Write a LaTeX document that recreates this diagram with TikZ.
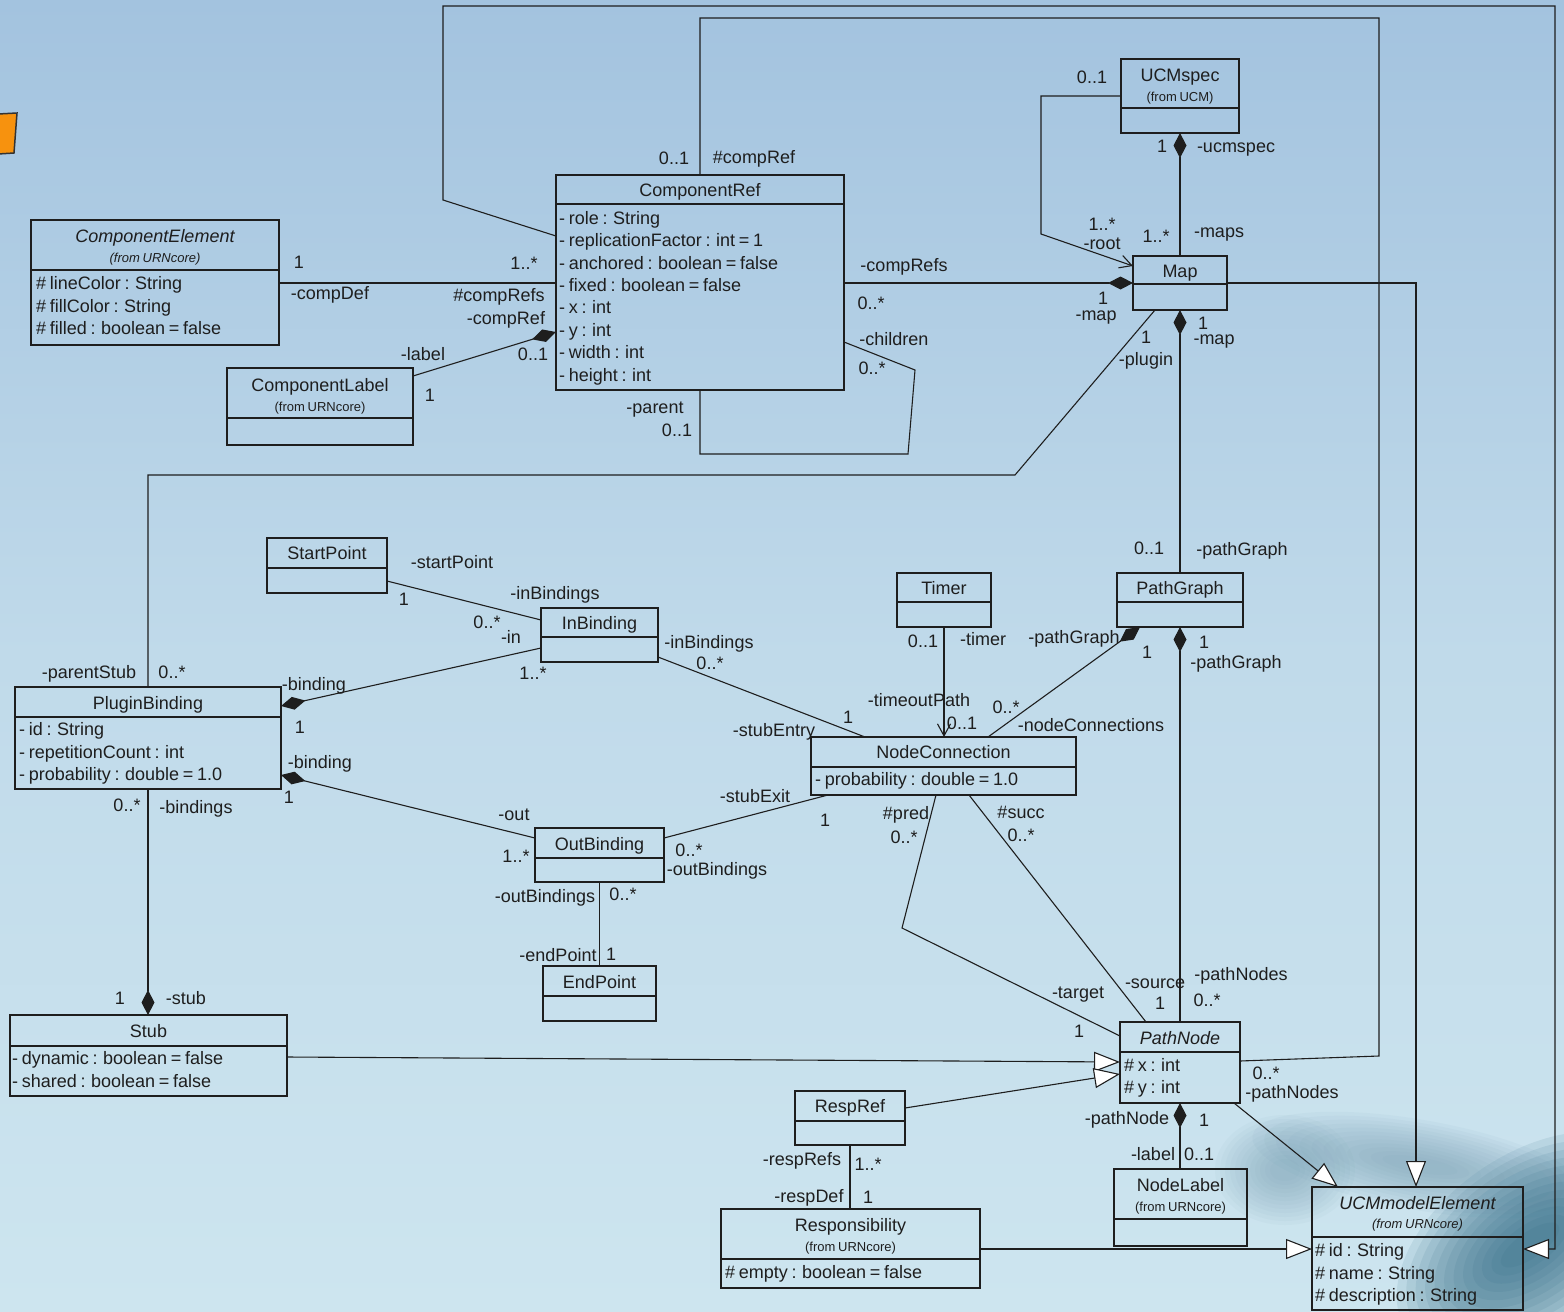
\documentclass[tikz,border=0pt]{standalone}
\usepackage{fontspec}
\setmainfont{Liberation Sans}[WordSpace=0.75]
\usetikzlibrary{arrows.meta}
\definecolor{lc}{HTML}{1E1E1E}
\definecolor{bgtop}{HTML}{A3C3DF}
\definecolor{bgmid}{HTML}{C0DAEA}
\definecolor{bgbot}{HTML}{CDE5EF}
\definecolor{swirl}{HTML}{2A6680}
\definecolor{swirlb}{HTML}{6F98AC}
\definecolor{orng}{HTML}{F7920E}
\tikzset{
 cl/.style={draw=lc, line width=1.1pt},
 ubox/.style={draw=lc, line width=1.1pt, rectangle, inner sep=0pt, outer sep=0pt, anchor=north west},
 tx/.style={font=\fontsize{18}{18}\selectfont, text=lc, inner sep=0pt, text height=12pt, text depth=0pt},
 ti/.style={tx, font=\fontsize{18}{18}\selectfont\itshape},
 fr/.style={font=\fontsize{13}{13}\selectfont, text=lc, inner sep=0pt, text height=9pt, text depth=0pt},
 fri/.style={fr, font=\fontsize{13}{13}\selectfont\itshape},
 attr/.style={tx, anchor=west},
 comp/.style={{Diamond[length=25pt,width=13pt,fill=lc]}-},
 gen/.style={-{Triangle[open,length=26pt,width=20pt,fill=white]}},
 nav/.style={-{Straight Barb[length=12pt,width=13pt]}},
}
\newcommand\klass[5]{\node[ubox, minimum width=#4pt, minimum height=#5pt] (#1) at (#2,#3) {};}
\newcommand\ksep[2]{\draw[cl] (#1.west |- 0,#2) -- (#1.east |- 0,#2);}
\newcommand\lab[4]{\node[tx] (#1) at (#2,#3) {#4};}
\begin{document}
\begin{tikzpicture}[x=1pt,y=-1pt]
\useasboundingbox (0,0) rectangle (1564,1312);
\shade[top color=bgtop, bottom color=bgbot, middle color=bgmid] (0,0) rectangle (1564,1312);
% background decoration (soft blurred swirl)
\begin{scope}
\clip (0,0) rectangle (1564,1312);
\foreach \i in {0,...,11}{
  \fill[swirlb, opacity=0.05] (1285,1170) ellipse [x radius={70-5*\i}, y radius={55-4*\i}];
  \fill[swirlb, opacity=0.06, rotate around={-10:(1420,1165)}] (1420,1165) ellipse [x radius={170-12*\i}, y radius={45-3.4*\i}];
  \fill[swirl, opacity=0.1, rotate around={35:(1530,1245)}] (1530,1245) ellipse [x radius={150-10.5*\i}, y radius={90-7*\i}];
}
\end{scope}
\fill[orng, draw=black!80, line width=1.5pt] (-2,114) -- (17,113) -- (14,153) -- (-2,154) -- cycle;

% ---------- classes ----------
\klass{celem}{31}{220}{248}{125}\ksep{celem}{270}
\node[ti] (celem-n) at (celem.north |- 0,236) {ComponentElement};
\node[fri] (celem-f) at (celem.north |- 0,258) {(from URNcore)};
\node[attr] (celem-a1) at (36,283) {\# lineColor : String};
\node[attr] (celem-a2) at (36,306) {\# fillColor : String};
\node[attr] (celem-a3) at (36,328) {\# filled : boolean = false};

\klass{clabel}{227}{368}{186}{77}\ksep{clabel}{418}
\node[tx] (clabel-n) at (clabel.north |- 0,385) {ComponentLabel};
\node[fr] (clabel-f) at (clabel.north |- 0,407) {(from URNcore)};

\klass{cref}{556}{175}{288}{215}\ksep{cref}{204}
\node[tx] (cref-n) at (cref.north |- 0,190) {ComponentRef};
\node[attr] (cref-a1) at (559,218) {- role : String};
\node[attr] (cref-a2) at (559,240) {- replicationFactor : int = 1};
\node[attr] (cref-a3) at (559,263) {- anchored : boolean = false};
\node[attr] (cref-a4) at (559,285) {- fixed : boolean = false};
\node[attr] (cref-a5) at (559,307) {- x : int};
\node[attr] (cref-a6) at (559,330) {- y : int};
\node[attr] (cref-a7) at (559,352) {- width : int};
\node[attr] (cref-a8) at (559,375) {- height : int};

\klass{ucmspec}{1121}{59}{118}{74}\ksep{ucmspec}{108}
\node[tx] (ucmspec-n) at (ucmspec.north |- 0,75) {UCMspec};
\node[fr] (ucmspec-f) at (ucmspec.north |- 0,97) {(from UCM)};

\klass{map}{1133}{256}{94}{54}\ksep{map}{284}
\node[tx] (map-n) at (map.north |- 0,271) {Map};

\klass{pathg}{1117}{573}{126}{54}\ksep{pathg}{602}
\node[tx] (pathg-n) at (pathg.north |- 0,588) {PathGraph};

\klass{timer}{897}{573}{94}{54}\ksep{timer}{602}
\node[tx] (timer-n) at (timer.north |- 0,588) {Timer};

\klass{startp}{267}{538}{120}{55}\ksep{startp}{568}
\node[tx] (startp-n) at (startp.north |- 0,553) {StartPoint};

\klass{inb}{541}{608}{117}{54}\ksep{inb}{637}
\node[tx] (inb-n) at (inb.north |- 0,623) {InBinding};

\klass{pb}{15}{687}{266}{102}\ksep{pb}{717}
\node[tx] (pb-n) at (pb.north |- 0,703) {PluginBinding};
\node[attr] (pb-a1) at (19,729) {- id : String};
\node[attr] (pb-a2) at (19,752) {- repetitionCount : int};
\node[attr] (pb-a3) at (19,774) {- probability : double = 1.0};

\klass{nodecon}{811}{737}{265}{58}\ksep{nodecon}{767}
\node[tx] (nodecon-n) at (nodecon.north |- 0,752) {NodeConnection};
\node[attr] (nodecon-a1) at (815,779) {- probability : double = 1.0};

\klass{outb}{535}{828}{129}{54}\ksep{outb}{858}
\node[tx] (outb-n) at (outb.north |- 0,844) {OutBinding};

\klass{endp}{543}{966}{113}{55}\ksep{endp}{996}
\node[tx] (endp-n) at (endp.north |- 0,982) {EndPoint};

\klass{stub}{10}{1015}{277}{81}\ksep{stub}{1046}
\node[tx] (stub-n) at (stub.north |- 0,1031) {Stub};
\node[attr] (stub-a1) at (12,1058) {- dynamic : boolean = false};
\node[attr] (stub-a2) at (12,1081) {- shared : boolean = false};

\klass{pnode}{1120}{1022}{120}{81}\ksep{pnode}{1052}
\node[ti] (pnode-n) at (pnode.north |- 0,1038) {PathNode};
\node[attr] (pnode-a1) at (1124,1065) {\# x : int};
\node[attr] (pnode-a2) at (1124,1087) {\# y : int};

\klass{respref}{795}{1091}{110}{54}\ksep{respref}{1121}
\node[tx] (respref-n) at (respref.north |- 0,1106) {RespRef};

\klass{nlabel}{1114}{1169}{133}{77}\ksep{nlabel}{1219}
\node[tx] (nlabel-n) at (nlabel.north |- 0,1185) {NodeLabel};
\node[fr] (nlabel-f) at (nlabel.north |- 0,1207) {(from URNcore)};

\klass{resp}{721}{1209}{259}{79}\ksep{resp}{1259}
\node[tx] (resp-n) at (resp.north |- 0,1225) {Responsibility};
\node[fr] (resp-f) at (resp.north |- 0,1247) {(from URNcore)};
\node[attr] (resp-a1) at (725,1272) {\# empty : boolean = false};

\klass{ucme}{1312}{1187}{211}{123}\ksep{ucme}{1237}
\node[ti] (ucme-n) at (ucme.north |- 0,1203) {UCMmodelElement};
\node[fri] (ucme-f) at (ucme.north |- 0,1224) {(from URNcore)};
\node[attr] (ucme-a1) at (1315,1250) {\# id : String};
\node[attr] (ucme-a2) at (1315,1273) {\# name : String};
\node[attr] (ucme-a3) at (1315,1295) {\# description : String};

% ---------- connectors ----------
\draw[cl] (celem.east |- 0,283) -- (cref.west |- 0,283);
\draw[cl,comp] (cref.west |- 0,332) -- (clabel.east |- 0,376);
\draw[cl,comp] (map.west |- 0,283) -- (cref.east |- 0,283);
\draw[cl] (cref.east |- 0,342) -- (915,370) -- (908,454) -- (700,454) -- (cref.south);
\draw[cl] (pnode.east |- 0,1061) -- (1379,1056) -- (1379,18) -- (700,18) -- (cref.north);
\draw[cl,gen] (cref.west |- 0,236) -- (443,200) -- (443,6) -- (1555,6) -- (1555,1249) -- (ucme.east |- 0,1249);
\draw[cl,nav] (ucmspec.west |- 0,96) -- (1041,96) -- (1041,234) -- (map.west |- 0,266);
\draw[cl,comp] (ucmspec.south) -- (map.north);
\draw[cl,comp] (map.south) -- (pathg.north);
\draw[cl] (map.south -| 1155,0) -- (1015,475) -- (148,475) -- (pb.north -| 148,0);
\draw[cl,gen] (map.east |- 0,283) -- (1416,283) -- (ucme.north -| 1416,0);
\draw[cl] (startp.east |- 0,581) -- (inb.west |- 0,620);
\draw[cl,comp] (pb.east |- 0,706) -- (inb.west |- 0,648);
\draw[cl] (inb.east |- 0,657) -- (nodecon.north -| 865,0);
\draw[cl,nav] (timer.south) -- (nodecon.north -| timer.south);
\draw[cl,comp] (pathg.south -| 1140,0) -- (nodecon.north -| 988,0);
\draw[cl,comp] (pathg.south) -- (pnode.north);
\draw[cl,comp] (pb.east |- 0,775) -- (outb.west |- 0,838);
\draw[cl] (outb.east |- 0,838) -- (nodecon.south -| 828,0);
\draw[cl] (outb.south) -- (endp.north);
\draw[cl,comp] (stub.north -| 148,0) -- (pb.south -| 148,0);
\draw[cl,gen] (stub.east |- 0,1057) -- (pnode.west |- 0,1062);
\draw[cl,gen] (respref.east |- 0,1108) -- (pnode.west |- 0,1074);
\draw[cl] (nodecon.south -| 936,0) -- (902,928) -- (pnode.west |- 0,1036);
\draw[cl] (nodecon.south -| 969,0) -- (pnode.north -| 1146,0);
\draw[cl,comp] (pnode.south) -- (nlabel.north -| pnode.south);
\draw[cl,gen] (pnode.south -| 1234,0) -- (ucme.north -| 1338,0);
\draw[cl] (respref.south) -- (resp.north -| respref.south);
\draw[cl,gen] (resp.east |- 0,1249) -- (ucme.west |- 0,1249);

% ---------- association end labels ----------
\lab{m1}{299}{262}{1}
\lab{r1}{330}{293}{-compDef}
\lab{m2}{524}{263}{1..*}
\lab{r2}{499}{295}{\#compRefs}
\lab{r3}{506}{318}{-compRef}
\lab{r4}{423}{354}{-label}
\lab{m3}{533}{354}{0..1}
\lab{m4}{430}{395}{1}
\lab{m5}{674}{158}{0..1}
\lab{r5}{754}{157}{\#compRef}
\lab{r6}{904}{265}{-compRefs}
\lab{m6}{871}{303}{0..*}
\lab{r7}{894}{339}{-children}
\lab{m7}{872}{368}{0..*}
\lab{r8}{655}{407}{-parent}
\lab{m8}{677}{430}{0..1}
\lab{m9}{1092}{77}{0..1}
\lab{m10}{1102}{224}{1..*}
\lab{r9}{1102}{243}{-root}
\lab{m11}{1162}{146}{1}
\lab{r10}{1236}{146}{-ucmspec}
\lab{m12}{1156}{236}{1..*}
\lab{r11}{1219}{231}{-maps}
\lab{m13}{1103}{298}{1}
\lab{r12}{1096}{314}{-map}
\lab{m14}{1203}{323}{1}
\lab{r13}{1214}{338}{-map}
\lab{m15}{1146}{337}{1}
\lab{r14}{1146}{359}{-plugin}
\lab{m16}{1149}{548}{0..1}
\lab{r15}{1242}{549}{-pathGraph}
\lab{r16}{452}{562}{-startPoint}
\lab{m17}{404}{599}{1}
\lab{r17}{555}{593}{-inBindings}
\lab{m18}{487}{622}{0..*}
\lab{r18}{511}{637}{-in}
\lab{m19}{533}{673}{1..*}
\lab{r19}{89}{672}{-parentStub}
\lab{m20}{172}{672}{0..*}
\lab{r20}{314}{684}{-binding}
\lab{m21}{300}{727}{1}
\lab{r21}{320}{762}{-binding}
\lab{m22}{289}{797}{1}
\lab{r22}{514}{814}{-out}
\lab{m23}{516}{856}{1..*}
\lab{m24}{127}{805}{0..*}
\lab{r23}{196}{807}{-bindings}
\lab{r24}{709}{642}{-inBindings}
\lab{m25}{710}{663}{0..*}
\lab{m26}{923}{641}{0..1}
\lab{r25}{983}{639}{-timer}
\lab{r26}{1074}{637}{-pathGraph}
\lab{m27}{1147}{652}{1}
\lab{m28}{1204}{642}{1}
\lab{r27}{1236}{662}{-pathGraph}
\lab{r28}{919}{700}{-timeoutPath}
\lab{m29}{962}{723}{0..1}
\lab{m30}{1006}{707}{0..*}
\lab{r29}{1091}{725}{-nodeConnections}
\lab{m31}{848}{717}{1}
\lab{r30}{774}{730}{-stubEntry}
\lab{r31}{755}{796}{-stubExit}
\lab{m32}{825}{820}{1}
\lab{m33}{689}{850}{0..*}
\lab{r32}{717}{869}{-outBindings}
\lab{r33}{545}{896}{-outBindings}
\lab{m34}{623}{894}{0..*}
\lab{r34}{558}{955}{-endPoint}
\lab{m35}{611}{954}{1}
\lab{r35}{906}{813}{\#pred}
\lab{m36}{904}{837}{0..*}
\lab{r36}{1021}{812}{\#succ}
\lab{m37}{1021}{835}{0..*}
\lab{r37}{1078}{992}{-target}
\lab{m38}{1079}{1031}{1}
\lab{r38}{1155}{982}{-source}
\lab{m39}{1160}{1003}{1}
\lab{r39}{1241}{974}{-pathNodes}
\lab{m40}{1207}{1000}{0..*}
\lab{m41}{120}{998}{1}
\lab{r40}{186}{998}{-stub}
\lab{m42}{1266}{1073}{0..*}
\lab{r41}{1292}{1092}{-pathNodes}
\lab{r42}{1127}{1118}{-pathNode}
\lab{m43}{1204}{1120}{1}
\lab{r43}{1153}{1154}{-label}
\lab{m44}{1199}{1154}{0..1}
\lab{r44}{802}{1159}{-respRefs}
\lab{m45}{868}{1164}{1..*}
\lab{r45}{809}{1196}{-respDef}
\lab{m46}{868}{1197}{1}
\end{tikzpicture}
\end{document}
